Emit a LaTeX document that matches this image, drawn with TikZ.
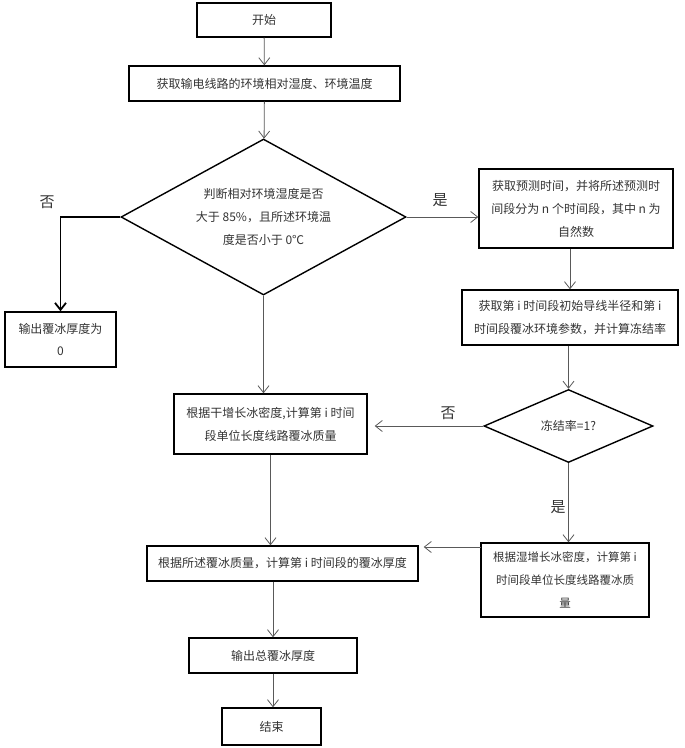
\documentclass[tikz,border=0pt]{standalone}
\usepackage{fontspec}
\setmainfont{Noto Sans CJK SC}
\usetikzlibrary{calc, shapes.geometric, arrows.meta}

\begin{document}
\begin{tikzpicture}[x=1pt, y=-1pt,
        font=\fontsize{12}{23}\selectfont,
        box/.style={draw=black, line width=1.4pt, inner sep=0pt, align=center, text=black!80},
        flow/.style={draw=black!65, line width=0.8pt, -{Straight Barb[length=7pt,width=11pt]}},
        tag/.style={font=\fontsize{15}{15}\selectfont, text=black!80}]
        \useasboundingbox (0,0) rectangle (685,748);

        \coordinate (S) at (264,20);
        \coordinate (G) at (264.5,83.5);
        \coordinate (J) at (263.5,217);
        \coordinate (Z) at (60.5,339.5);
        \coordinate (P) at (576,208.5);
        \coordinate (R) at (570,317.5);
        \coordinate (F) at (568.5,426);
        \coordinate (D) at (270.5,424);
        \coordinate (W) at (565,580);
        \coordinate (T) at (282.5,563.5);
        \coordinate (O) at (273,655.5);
        \coordinate (E) at (271.5,726.5);
        \coordinate (wetout) at (481,547);

        \node[box, minimum width=134pt, minimum height=34pt] (start) at (S) {开始};
        \node[box, minimum width=271pt, minimum height=35pt] (getdata) at (G) {获取输电线路的环境相对湿度、环境温度};
        \node[box, diamond, aspect=1.83, minimum width=285pt, minimum height=156pt] (judge) at (J)
            {判断相对环境湿度是否\\大于 85\%，且所述环境温\\度是否小于 0℃};
        \node[box, minimum width=111pt, minimum height=55pt] (nozero) at (Z) {输出覆冰厚度为\\0};
        \node[box, minimum width=194pt, minimum height=79pt] (predict) at (P)
            {获取预测时间，并将所述预测时\\间段分为 n 个时间段，其中 n 为\\自然数};
        \node[box, minimum width=216pt, minimum height=55pt] (rate) at (R)
            {获取第 i 时间段初始导线半径和第 i\\时间段覆冰环境参数，并计算冻结率};
        \node[box, diamond, aspect=2.3, minimum width=169pt, minimum height=73pt] (freeze) at (F) {冻结率=1?};
        \node[box, minimum width=193pt, minimum height=60pt] (dry) at (D)
            {根据干增长冰密度,计算第 i 时间\\段单位长度线路覆冰质量};
        \node[box, minimum width=168pt, minimum height=74pt, font=\fontsize{11.5}{23}\selectfont] (wet) at (W)
            {根据湿增长冰密度，计算第 i\\时间段单位长度线路覆冰质\\量};
        \node[box, minimum width=271pt, minimum height=35pt] (thick) at (T) {根据所述覆冰质量，计算第 i 时间段的覆冰厚度};
        \node[box, minimum width=168pt, minimum height=35pt] (total) at (O) {输出总覆冰厚度};
        \node[box, minimum width=99pt, minimum height=37pt] (end) at (E) {结束};

        \draw[flow] (start) -- (getdata);
        \draw[flow] (getdata) -- (judge);
        \draw[flow, draw=black, line width=1.8pt] (judge.west) -| (nozero.north);
        \draw[flow] (judge.east) -- (judge.east -| predict.west);
        \draw[flow] (rate.north |- predict.south) -- (rate.north);
        \draw[flow] (freeze.north |- rate.south) -- (freeze.north);
        \draw[flow, shorten >=7pt] (freeze.west) -- (freeze.west -| dry.east);
        \draw[flow] (freeze.south) -- (freeze.south |- wet.north);
        \draw[flow] (judge.south) -- (judge.south |- dry.north);
        \draw[flow] (dry.south) -- (dry.south |- thick.north);
        \draw[flow, shorten >=5pt] (wetout) -- (wetout -| thick.east);
        \draw[flow] (total.north |- thick.south) -- (total.north);
        \draw[flow] (total.south) -- (total.south |- end.north);

        \node[tag] (no1) at (47,202) {否};
        \node[tag] (yes1) at (440,200) {是};
        \node[tag] (no2) at (448,413) {否};
        \node[tag] (yes2) at (558,507) {是};
    \end{tikzpicture}
\end{document}
